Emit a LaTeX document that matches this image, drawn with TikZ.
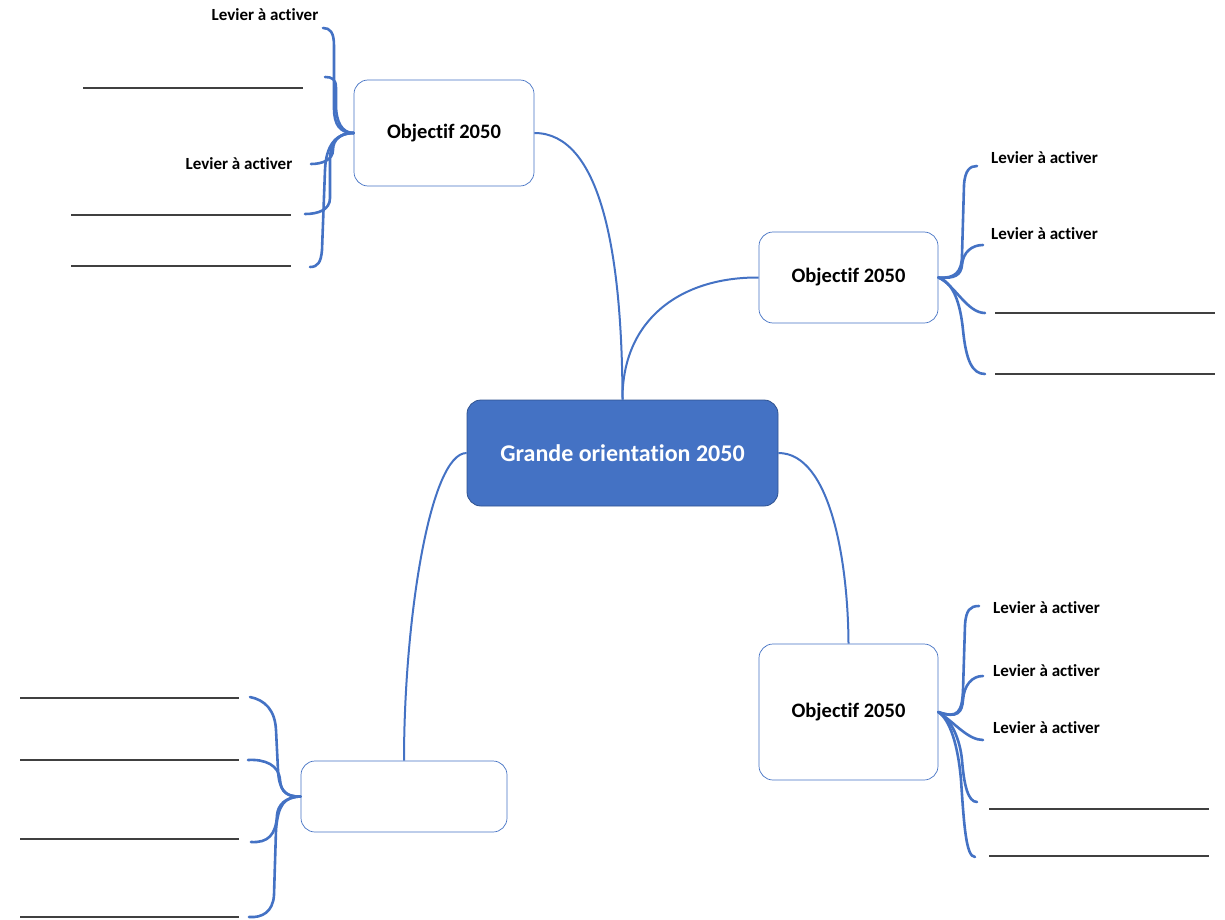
\documentclass[tikz,border=0pt]{standalone}
\usepackage{fontspec}
\setmainfont{Carlito}[Ligatures={NoCommon}]
\definecolor{blu}{HTML}{4472C4}
\definecolor{dblu}{HTML}{2F528F}
\begin{document}
\begin{tikzpicture}[x=1pt,y=-1pt,
  central/.style={draw=dblu,fill=blu,rounded corners=14pt,line width=0.8pt,minimum width=311pt,minimum height=106pt,inner sep=0pt,text=white,font=\fontsize{24}{28}\selectfont\bfseries},
  obj/.style={draw=blu,fill=white,rounded corners=14pt,line width=0.7pt,inner sep=0pt,font=\fontsize{20.5}{24}\selectfont\bfseries},
  lev/.style={inner sep=0pt,font=\fontsize{17}{20}\selectfont\bfseries},
  mainc/.style={draw=blu,line width=2pt},
  br/.style={draw=blu,line width=2.6pt,line cap=round},
  blank/.style={draw=black!75,line width=1.1pt}]
\useasboundingbox (0,0) rectangle (1225,920);
% boxes
\node[central] (C) at (622.5,453) {Grande orientation 2050};
\node[obj,minimum width=180pt,minimum height=106pt] (A) at (444,133) {Objectif 2050};
\node[obj,minimum width=179pt,minimum height=91pt] (B) at (848.5,277.5) {Objectif 2050};
\node[obj,minimum width=179pt,minimum height=136pt] (D) at (848.5,712) {Objectif 2050};
\node[obj,minimum width=206pt,minimum height=71pt] (E) at (404,796.5) {};
% main connectors
\draw[mainc] (C.north) ++(0,0) coordinate (ct) .. controls (622,250) and (600,133) .. (A.east);
\draw[mainc] (ct) .. controls (622,320) and (680,277) .. (B.west);
\draw[mainc] (C.east) .. controls (830,453) and (848,560) .. (D.north);
\draw[mainc] (C.west) .. controls (430,453) and (404,620) .. (E.north);
% texts
\node[lev] (t1) at (265,15) {Levier à activer};
\node[lev] (t2) at (239,164) {Levier à activer};
\node[lev,anchor=west] (t3) at (991,158) {Levier à activer};
\node[lev,anchor=west] (t4) at (991,234) {Levier à activer};
\node[lev,anchor=west] (t5) at (993,608) {Levier à activer};
\node[lev,anchor=west] (t6) at (993,671) {Levier à activer};
\node[lev,anchor=west] (t7) at (993,728) {Levier à activer};
% blank lines
\draw[blank] (83,88) -- (303,88);
\draw[blank] (71,215) -- (291,215);
\draw[blank] (71,266) -- (291,266);
\draw[blank] (995,313) -- (1215,313);
\draw[blank] (995,374) -- (1215,374);
\draw[blank] (989,809) -- (1209,809);
\draw[blank] (989,856) -- (1209,856);
\draw[blank] (20,698) -- (239,698);
\draw[blank] (20,760) -- (239,760);
\draw[blank] (20,839) -- (239,839);
\draw[blank] (20,917) -- (239,917);
% branches top-left
\coordinate (a1) at (323,28);
\coordinate (a2) at (325,77);
\coordinate (a3) at (311,164);
\coordinate (a4) at (305,214);
\coordinate (a5) at (310,267);
\draw[br] (A.west) .. controls (340,133) and (334,125) .. (334,108) -- (334,46) .. controls (334,32) and (330,28) .. (a1);
\draw[br] (A.west) .. controls (342,133) and (336,122) .. (336,105) -- (336,88) .. controls (336,79) and (332,77) .. (a2);
\draw[br] (A.west) .. controls (340,133) and (333,140) .. (333,150) .. controls (333,160) and (322,164) .. (a3);
\draw[br] (A.west) .. controls (338,133) and (330,142) .. (330,160) -- (330,198) .. controls (330,210) and (318,214) .. (a4);
\draw[br] (A.west) .. controls (336,133) and (326,145) .. (325,170) -- (322,250) .. controls (321,262) and (318,267) .. (a5);
% branches right-top
\coordinate (b1) at (977,166);
\coordinate (b2) at (983,245);
\coordinate (b3) at (985,313);
\coordinate (b4) at (985,374);
\draw[br] (B.east) .. controls (955,279) and (962,272) .. (962,255) -- (964,185) .. controls (965,170) and (970,166) .. (b1);
\draw[br] (B.east) .. controls (955,279) and (961,275) .. (962,265) .. controls (963,252) and (972,245) .. (b2);
\draw[br] (B.east) .. controls (955,285) and (967,313) .. (b3);
\draw[br] (B.east) .. controls (952,282) and (960,300) .. (963,330) .. controls (966,360) and (972,374) .. (b4);
% branches right-bottom
\coordinate (d1) at (979,606);
\coordinate (d2) at (983,676);
\coordinate (d3) at (983,740);
\coordinate (d4) at (977,802);
\coordinate (d5) at (975,857);
\draw[br] (D.east) .. controls (958,719) and (962,712) .. (963,690) -- (965,625) .. controls (966,610) and (970,606) .. (d1);
\draw[br] (D.east) .. controls (958,719) and (962,712) .. (963,700) .. controls (964,685) and (972,676) .. (d2);
\draw[br] (D.east) .. controls (955,723) and (968,740) .. (d3);
\draw[br] (D.east) .. controls (952,720) and (960,740) .. (962,760) .. controls (964,785) and (968,802) .. (d4);
\draw[br] (D.east) .. controls (950,720) and (958,745) .. (961,780) .. controls (964,825) and (966,857) .. (d5);
% branches bottom-left
\coordinate (e1) at (250,697);
\coordinate (e2) at (248,760);
\coordinate (e3) at (251,842);
\coordinate (e4) at (249,917);
\draw[br] (E.west) .. controls (285,797) and (279,790) .. (278,770) -- (276,730) .. controls (275,710) and (265,700) .. (e1);
\draw[br] (E.west) .. controls (287,797) and (281,792) .. (280,780) .. controls (279,765) and (265,759) .. (e2);
\draw[br] (E.west) .. controls (285,797) and (278,805) .. (277,815) .. controls (276,835) and (268,843) .. (e3);
\draw[br] (E.west) .. controls (284,797) and (278,805) .. (276,830) -- (274,895) .. controls (273,912) and (262,918) .. (e4);
\end{tikzpicture}
\end{document}
